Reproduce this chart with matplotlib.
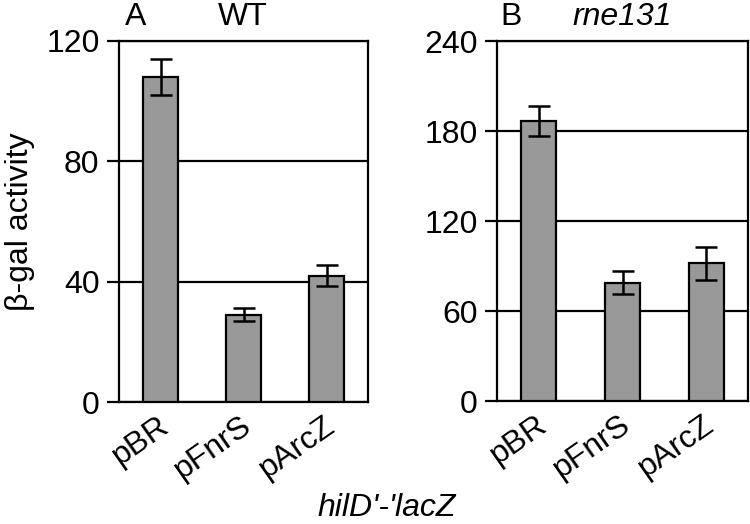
import matplotlib
matplotlib.use("Agg")
import matplotlib.pyplot as plt
import matplotlib.transforms as mtransforms
import numpy as np

plt.rcParams['font.family'] = ['Liberation Sans', 'DejaVu Sans']

# datos
plasmidos = ['pBR', 'pFnrS', 'pArcZ']
wt_media = [108, 29, 42]
wt_err = [6, 2.2, 3.5]
rne_media = [187, 79, 92]
rne_err = [10, 7.5, 11]

fig = plt.figure(figsize=(7.5, 5.24), dpi=100)
ax1 = fig.add_axes([0.1587, 0.2328, 0.332, 0.689])
ax2 = fig.add_axes([0.6627, 0.2347, 0.3347, 0.687])

x = np.arange(len(plasmidos))
fs = 23


def panel(ax, medias, errores, ymax, paso):
    ax.set_axisbelow(True)
    ax.bar(x, medias, width=0.42, color='#999999', edgecolor='black', linewidth=1.6, zorder=3)
    ax.errorbar(x, medias, yerr=errores, fmt='none', ecolor='black', elinewidth=1.8,
                capsize=8, capthick=1.8, zorder=4)
    ax.set_xlim(-0.5, 2.5)
    ax.set_ylim(0, ymax)
    ax.set_yticks(np.arange(0, ymax + 1, paso))
    ax.yaxis.grid(True, color='black', linewidth=1.6)
    for s in ax.spines.values():
        s.set_linewidth(1.6)
    ax.tick_params(axis='y', direction='out', length=9, width=1.6, labelsize=fs, pad=5)
    ax.tick_params(axis='x', length=0, labelsize=fs, pad=6)
    ax.set_xticks(x)
    ax.set_xticklabels(plasmidos, rotation=35, ha='right', va='top')
    off = mtransforms.ScaledTranslation(0.14, 0, fig.dpi_scale_trans)
    for lab in ax.get_xticklabels():
        lab.set_transform(lab.get_transform() + off)


panel(ax1, wt_media, wt_err, 120, 40)
panel(ax2, rne_media, rne_err, 240, 60)

ax1.set_ylabel('β-gal activity', fontsize=fs, labelpad=8)

fig.text(0.181, 0.997, 'A', fontsize=fs, ha='center', va='top')
fig.text(0.324, 0.997, 'WT', fontsize=fs, ha='center', va='top')
fig.text(0.681, 0.997, 'B', fontsize=fs, ha='center', va='top')
fig.text(0.829, 0.997, 'rne131', fontsize=fs, ha='center', va='top', style='italic')
fig.text(0.516, 0.03, "hilD'-'lacZ", fontsize=fs, ha='center', va='center', style='italic')

fig.savefig('out.png', dpi=100)
